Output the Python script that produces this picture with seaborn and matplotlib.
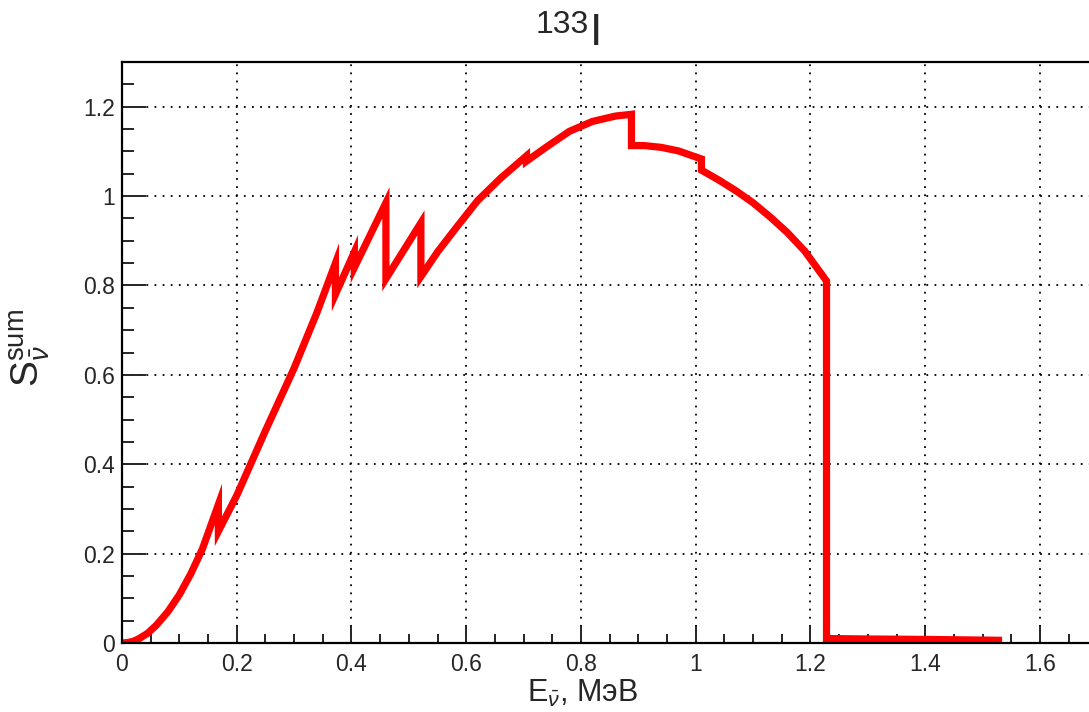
"""Суммарный спектр антинейтрино 133I."""

import matplotlib

matplotlib.use("Agg")
import matplotlib.pyplot as plt
import numpy as np
import pandas as pd
import seaborn as sns
from matplotlib.ticker import MultipleLocator


# точки кривой (МэВ, S)
SEG1_E = [0.0, 0.01, 0.02, 0.03, 0.045, 0.06, 0.08, 0.10, 0.12, 0.14, 0.168]
SEG1_S = [0.0, 0.001, 0.004, 0.01, 0.022, 0.04, 0.07, 0.108, 0.155, 0.21, 0.31]
SEG2_E = [0.168, 0.20, 0.25, 0.30, 0.34, 0.372]
SEG2_S = [0.25, 0.33, 0.475, 0.615, 0.74, 0.85]
SEG3_E = [0.372, 0.405]
SEG3_S = [0.78, 0.875]
SEG4_E = [0.405, 0.46]
SEG4_S = [0.84, 0.985]
SEG5_E = [0.46, 0.521]
SEG5_S = [0.815, 0.94]
SEG6_E = [0.521, 0.55, 0.58, 0.62, 0.66, 0.705]
SEG6_S = [0.82, 0.875, 0.925, 0.99, 1.04, 1.09]
SEG7_E = [0.705, 0.74, 0.78, 0.82, 0.86, 0.888]
SEG7_S = [1.078, 1.11, 1.145, 1.167, 1.179, 1.183]
SEG8_E = [0.888, 0.91, 0.94, 0.97, 1.01]
SEG8_S = [1.113, 1.113, 1.109, 1.101, 1.083]
SEG9_E = [1.01, 1.04, 1.07, 1.10, 1.13, 1.16, 1.19, 1.228]
SEG9_S = [1.058, 1.036, 1.012, 0.985, 0.953, 0.918, 0.877, 0.81]
SEG10_E = [1.228, 1.30, 1.40, 1.534]
SEG10_S = [0.01, 0.009, 0.008, 0.006]

ENERGY = SEG1_E + SEG2_E + SEG3_E + SEG4_E + SEG5_E + SEG6_E + SEG7_E + SEG8_E + SEG9_E + SEG10_E
SPECTRUM = SEG1_S + SEG2_S + SEG3_S + SEG4_S + SEG5_S + SEG6_S + SEG7_S + SEG8_S + SEG9_S + SEG10_S

X_TICKS = [0, 0.2, 0.4, 0.6, 0.8, 1.0, 1.2, 1.4, 1.6]
X_TICK_LABELS = ["0", "0.2", "0.4", "0.6", "0.8", "1", "1.2", "1.4", "1.6"]
Y_TICKS = [0, 0.2, 0.4, 0.6, 0.8, 1.0, 1.2]
Y_TICK_LABELS = ["0", "0.2", "0.4", "0.6", "0.8", "1", "1.2"]


def setup() -> None:
    sns.set_theme(style="ticks")
    plt.rcParams["font.family"] = ["Liberation Sans", "DejaVu Sans"]
    plt.rcParams["mathtext.fontset"] = "custom"
    plt.rcParams["mathtext.rm"] = "Liberation Sans"
    plt.rcParams["mathtext.it"] = "Liberation Sans:italic"
    plt.rcParams["mathtext.bf"] = "Liberation Sans:bold"


def main() -> None:
    setup()
    df = pd.DataFrame({"E": ENERGY, "S": SPECTRUM})

    fig = plt.figure(figsize=(10.89, 7.12), dpi=100)
    fig.patch.set_facecolor("white")
    # правая граница рамки уходит за край рисунка
    ax = fig.add_axes([122 / 1089, 69 / 712, 1004 / 1089, 581 / 712])
    ax.set_facecolor("white")

    ax.set_xlim(0, 1.75)
    ax.set_ylim(0, 1.3)
    ax.set_xticks(X_TICKS)
    ax.set_xticklabels(X_TICK_LABELS)
    ax.set_yticks(Y_TICKS)
    ax.set_yticklabels(Y_TICK_LABELS)
    ax.xaxis.set_minor_locator(MultipleLocator(0.05))
    ax.yaxis.set_minor_locator(MultipleLocator(0.05))

    ax.grid(True, which="major", color="black", linestyle=(0, (1, 3.5)), linewidth=1.3)
    ax.set_axisbelow(True)

    sns.lineplot(data=df, x="E", y="S", sort=False, estimator=None, color="#ff0000",
                 linewidth=5.2, ax=ax, zorder=3)
    for line in ax.get_lines():
        line.set_solid_joinstyle("miter")
        line.set_solid_capstyle("butt")

    for side in ["left", "bottom", "top", "right"]:
        ax.spines[side].set_linewidth(1.6)
        ax.spines[side].set_color("black")
        ax.spines[side].set_zorder(4)

    ax.tick_params(axis="x", which="major", direction="in", length=12, width=1.4,
                   labelsize=16.5, pad=7, top=False)
    ax.tick_params(axis="x", which="minor", direction="in", length=6.5, width=1.4, top=False)
    ax.tick_params(axis="y", which="major", direction="in", length=17, width=1.4,
                   labelsize=16.5, pad=5, right=False)
    ax.tick_params(axis="y", which="minor", direction="in", length=8.5, width=1.4, right=False)

    ax.set_xlabel("")
    ax.set_ylabel("")

    fig.text(589 / 1089, 1 - 33 / 712, "133", fontsize=23, ha="right", va="baseline")
    fig.text(590 / 1089, 1 - 45 / 712, "I", fontsize=32, ha="left", va="baseline")
    fig.text(638 / 1089, 1 - 702 / 712, r"E$_{\bar{\nu}}$, МэВ", fontsize=22,
             ha="right", va="baseline")
    fig.text(30 / 1089, 1 - 348 / 712, r"S$_{\bar{\nu}}^{\mathrm{sum}}$", fontsize=28,
             rotation=90, ha="center", va="center")

    fig.savefig("out.png", dpi=100)
    plt.close(fig)


if __name__ == "__main__":
    main()
